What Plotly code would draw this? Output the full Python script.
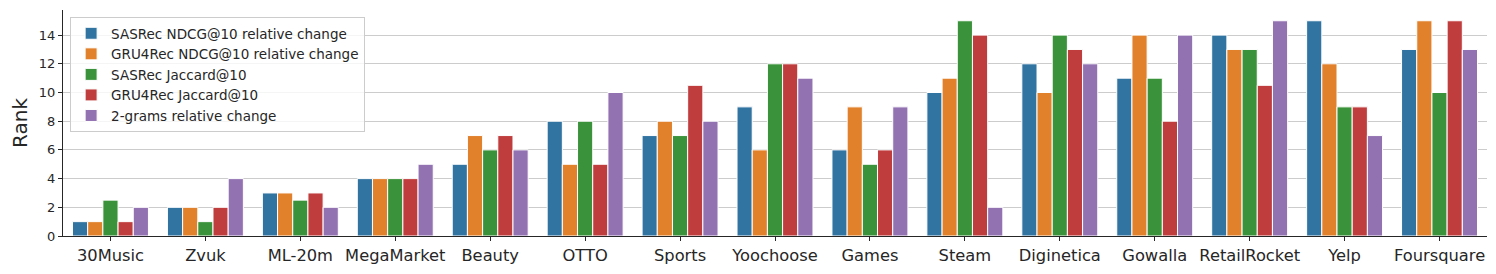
import plotly.graph_objects as go

categories = ["30Music", "Zvuk", "ML-20m", "MegaMarket", "Beauty", "OTTO", "Sports",
              "Yoochoose", "Games", "Steam", "Diginetica", "Gowalla", "RetailRocket",
              "Yelp", "Foursquare"]

sasrec_ndcg = [1, 2, 3, 4, 5, 8, 7, 9, 6, 10, 12, 11, 14, 15, 13]
gru4rec_ndcg = [1, 2, 3, 4, 7, 5, 8, 6, 9, 11, 10, 14, 13, 12, 15]
sasrec_jacc = [2.5, 1, 2.5, 4, 6, 8, 7, 12, 5, 15, 14, 11, 13, 9, 10]
gru4rec_jacc = [1, 2, 3, 4, 7, 5, 10.5, 12, 6, 14, 13, 8, 10.5, 9, 15]
bigrams = [2, 4, 2, 5, 6, 10, 8, 11, 9, 2, 12, 14, 15, 7, 13]

series_names = ["SASRec NDCG@10 relative change", "GRU4Rec NDCG@10 relative change",
                "SASRec Jaccard@10", "GRU4Rec Jaccard@10", "2-grams relative change"]
series_values = [sasrec_ndcg, gru4rec_ndcg, sasrec_jacc, gru4rec_jacc, bigrams]
colors = ["#3274a1", "#e1812c", "#3a923a", "#c03d3e", "#9372b2"]

y_ticks = [0, 2, 4, 6, 8, 10, 12, 14]

font_family = "DejaVu Sans"
text_color = "#262626"

fig = go.Figure()
for name, vals, col in zip(series_names, series_values, colors):
    fig.add_trace(go.Bar(
        x=categories, y=vals, name=name,
        marker=dict(color=col, line=dict(color="white", width=1)),
    ))

# page body has an 8px margin, so the figure is offset accordingly
fig.update_layout(
    width=1488, height=266,
    margin=dict(l=55, r=9, t=2, b=38),
    paper_bgcolor="white", plot_bgcolor="white",
    barmode="group", bargap=0.2, bargroupgap=0,
    font=dict(family=font_family, color=text_color, size=13),
    showlegend=True,
    legend=dict(
        x=0.005, y=0.969, xanchor="left", yanchor="top",
        bgcolor="rgba(255,255,255,0.8)", bordercolor="#cccccc", borderwidth=1,
        font=dict(size=13.5, family=font_family, color=text_color),
        tracegroupgap=0, itemwidth=30,
    ),
    xaxis=dict(
        range=[-0.5, 14.5],
        showline=True, linecolor=text_color, linewidth=1.2,
        ticks="outside", ticklen=4, tickcolor=text_color,
        tickfont=dict(size=16.3, family=font_family, color=text_color),
        showgrid=False, zeroline=False,
    ),
    yaxis=dict(
        range=[0, 15.75],
        tickvals=y_ticks,
        showline=True, linecolor=text_color, linewidth=1.2,
        ticks="outside", ticklen=4, tickcolor=text_color,
        tickfont=dict(size=13, family=font_family, color=text_color),
        showgrid=True, gridcolor="#cccccc", gridwidth=1,
        zeroline=False,
        title=dict(text="Rank", font=dict(size=20, family=font_family, color=text_color), standoff=10),
    ),
)

fig.write_html("out.html")
